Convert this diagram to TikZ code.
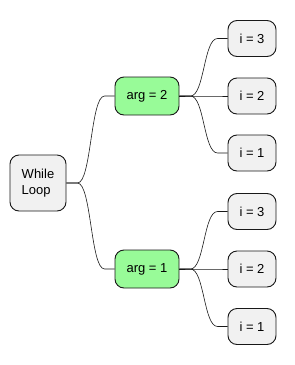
\documentclass[tikz,border=0pt]{standalone}
\usepackage{fontspec}
\setmainfont{Liberation Sans}
\usetikzlibrary{calc}
\definecolor{boxgray}{RGB}{241,241,241}
\definecolor{boxgreen}{RGB}{152,251,152}
\definecolor{linegray}{RGB}{24,24,24}
\begin{document}
\begin{tikzpicture}[x=1pt, y=-1pt,
    every node/.style={inner sep=1.5pt, font=\fontsize{13}{15.5}\selectfont},
    box/.style={draw=linegray, line width=0.9pt, rounded corners=9pt, fill=boxgray, align=left},
    leaf/.style={box, minimum width=48pt, minimum height=36pt},
    loopbox/.style={box, fill=boxgreen, minimum width=64pt, minimum height=38pt},
    branch/.style={draw=linegray, line width=0.6pt,
      to path={-- ++(11pt,0) .. controls +(14pt,0) and ($(\tikztotarget)+(-24pt,0)$) .. ($(\tikztotarget)+(-10pt,0)$) -- (\tikztotarget)}}]
    \useasboundingbox (0,0) rectangle (295,365);

    \node (root) at (38,183) [box, minimum width=56pt, minimum height=56pt] {While\\Loop};

    \node (a2) at (147,96) [loopbox] {arg = 2};
    \node (a1) at (147,269) [loopbox] {arg = 1};

    \node (a2i3) at (252,38.5) [leaf] {i = 3};
    \node (a2i2) at (252,96) [leaf] {i = 2};
    \node (a2i1) at (252,153) [leaf] {i = 1};

    \node (a1i3) at (252,211.5) [leaf] {i = 3};
    \node (a1i2) at (252,269) [leaf] {i = 2};
    \node (a1i1) at (252,326.5) [leaf] {i = 1};

    \draw[branch] (root.east) to (a2.west);
    \draw[branch] (root.east) to (a1.west);

    \draw[branch] (a2.east) to (a2i3.west);
    \draw[branch] (a2.east) to (a2i2.west);
    \draw[branch] (a2.east) to (a2i1.west);

    \draw[branch] (a1.east) to (a1i3.west);
    \draw[branch] (a1.east) to (a1i2.west);
    \draw[branch] (a1.east) to (a1i1.west);
  \end{tikzpicture}
\end{document}
